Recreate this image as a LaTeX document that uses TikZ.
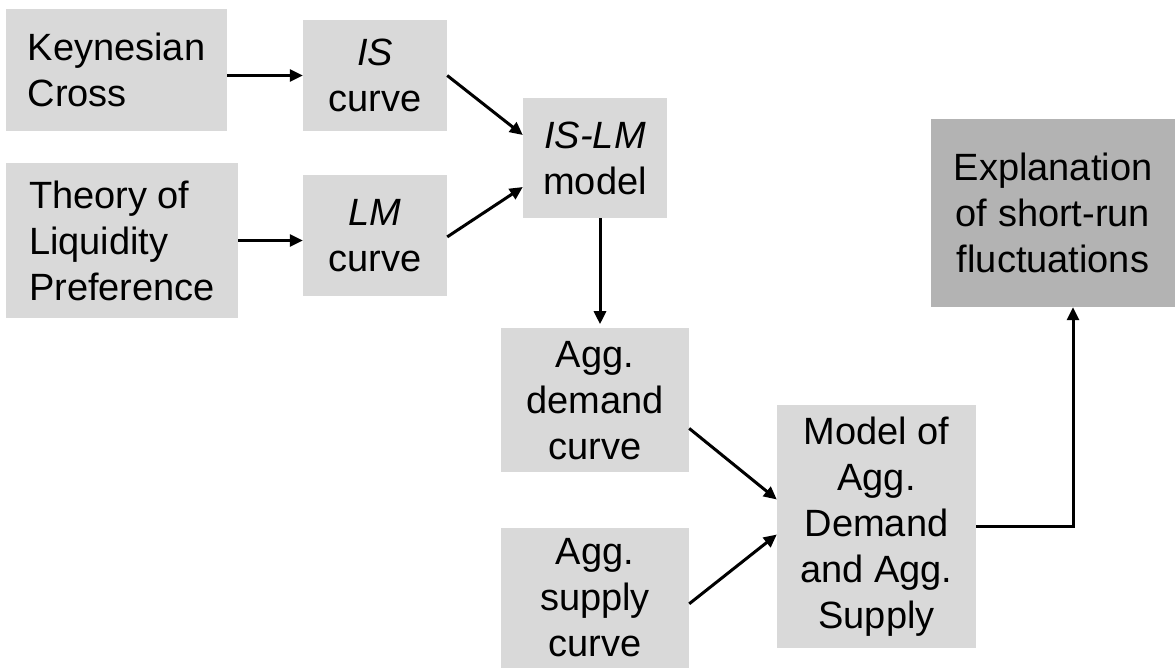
\documentclass[tikz,border=0pt]{standalone}
\usepackage{fontspec}
\setmainfont{Liberation Sans}
\usetikzlibrary{positioning, calc, arrows.meta}
\definecolor{boxgrey}{HTML}{D9D9D9}
\definecolor{resultgrey}{HTML}{B3B3B3}
\tikzset{
  stage/.style={rectangle,fill=boxgrey,inner sep=0pt,align=center,font=\fontsize{38}{46}\selectfont},
  stage_l/.style={stage,align=left},
  result/.style={stage,fill=resultgrey},
  flow/.style={line width=3pt,-{Triangle[length=13pt,width=12pt]}},
}
\begin{document}
\begin{tikzpicture}[x=1pt,y=-1pt]
	\useasboundingbox (0,0) rectangle (1175,667);
	\node[stage_l,minimum width=221pt,minimum height=122pt] (kc) at (116.5,70) {Keynesian\\Cross};
	\node[stage,minimum width=144pt,minimum height=111pt] (is) at (375,75.5) {\textit{IS}\\curve};
	\node[stage_l,minimum width=232pt,minimum height=155pt] (lp) at (122,240.5) {Theory of\\Liquidity\\Preference};
	\node[stage,minimum width=144pt,minimum height=121pt,below=44pt of is] (lm) {\textit{LM}\\curve};
	\node[stage,minimum width=144pt,minimum height=120pt] (islm) at (595,158) {\textit{IS-LM}\\model};
	\node[stage,minimum width=188pt,minimum height=144pt,below=110pt of islm] (ad) {Agg.\\demand\\curve};
	\node[stage,minimum width=188pt,minimum height=140pt,below=55pt of ad] (as) {Agg.\\supply\\curve};
	\node[stage,minimum width=199pt,minimum height=243pt] (adas) at (876.5,526.5) {Model of\\Agg.\\Demand\\and Agg.\\Supply};
	\node[result,minimum width=244pt,minimum height=188pt] (expl) at (1053,213) {Explanation\\of short-run\\fluctuations};
	\draw[flow] (kc.east |- is.west) -- (is.west);
	\draw[flow] (lp.east) -- (lp.east -| lm.west);
	\draw[flow] (is.east) -- ([yshift=23pt]islm.west);
	\draw[flow] ([yshift=-1pt]lm.east) -- ([yshift=-29pt]islm.west);
	\draw[flow] ([xshift=5pt]islm.south) -- ([xshift=5pt,yshift=4pt]ad.north);
	\draw[flow] ([yshift=-28pt]ad.east) -- ([yshift=27pt]adas.west);
	\draw[flow] ([yshift=-6pt]as.east) -- ([yshift=-8pt]adas.west);
	\draw[flow] (adas.east) -| ([xshift=20pt]expl.south);
\end{tikzpicture}
\end{document}
